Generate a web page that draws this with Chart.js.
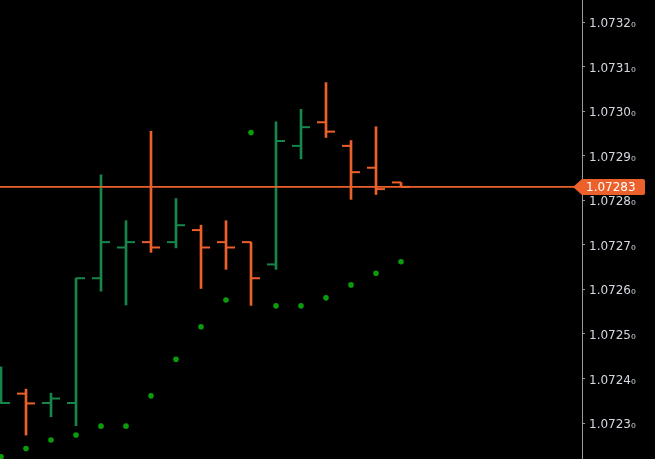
<!DOCTYPE html>
<html>
<head>
<meta charset="utf-8">
<script src="https://cdn.jsdelivr.net/npm/chart.js@4.4.1/dist/chart.umd.min.js"></script>
<style>
  html, body { margin: 0; padding: 0; background: #000; overflow: hidden; }
</style>
</head>
<body>
<canvas id="myChart" width="655" height="459"></canvas>
<script>
// bar index (one bar every 25px), OHLC
const bars   = [0, 1, 2, 3, 4, 5, 6, 7, 8, 9, 10, 11, 12, 13, 14, 15, 16];
const opens  = [1.072345, 1.072366, 1.072345, 1.072345, 1.072625, 1.072694, 1.072706, 1.072706, 1.072733, 1.072706, 1.072706, 1.072656, 1.072922, 1.072975, 1.072922, 1.072873, 1.072840];
const highs  = [1.072426, 1.072376, 1.072367, 1.072625, 1.072857, 1.072754, 1.072955, 1.072804, 1.072744, 1.072754, 1.072706, 1.072976, 1.073004, 1.073064, 1.072934, 1.072965, 1.072840];
const lows   = [1.072345, 1.072273, 1.072314, 1.072294, 1.072596, 1.072565, 1.072683, 1.072693, 1.072602, 1.072645, 1.072564, 1.072645, 1.072893, 1.072941, 1.072802, 1.072813, 1.072830];
const closes = [1.072345, 1.072344, 1.072355, 1.072625, 1.072706, 1.072706, 1.072694, 1.072744, 1.072694, 1.072694, 1.072625, 1.072933, 1.072964, 1.072954, 1.072863, 1.072825, 1.072830];
// parabolic SAR dots
const sar    = [1.072224, 1.072243, 1.072262, 1.072273, 1.072293, 1.072293, 1.072361, 1.072443, 1.072516, 1.072576, 1.072952, 1.072563, 1.072563, 1.072581, 1.072610, 1.072636, 1.072662];
const lastPrice = 1.07283;
const tickValues = [1.0723, 1.0724, 1.0725, 1.0726, 1.0727, 1.0728, 1.0729, 1.0730, 1.0731, 1.0732];

const green = '#16864a';
const orange = '#ec602c';
const dotGreen = '#0b9c0b';
const axisGrey = '#9a9a9a';

const xMin = -0.04, xMax = 23.24;
const tickOff = 0.18;

const barColors = bars.map(i => closes[i] >= opens[i] ? green : orange);

const priceTag = {
  id: 'priceTag',
  afterDraw(chart) {
    const ctx = chart.ctx;
    const y = chart.scales.y.getPixelForValue(lastPrice);
    const x0 = chart.chartArea.right - 9;
    ctx.save();
    ctx.fillStyle = orange;
    ctx.beginPath();
    ctx.moveTo(x0, y);
    ctx.lineTo(x0 + 9, y - 8);
    ctx.lineTo(x0 + 70, y - 8);
    ctx.quadraticCurveTo(x0 + 72, y - 8, x0 + 72, y - 6);
    ctx.lineTo(x0 + 72, y + 6);
    ctx.quadraticCurveTo(x0 + 72, y + 8, x0 + 70, y + 8);
    ctx.lineTo(x0 + 9, y + 8);
    ctx.closePath();
    ctx.fill();
    ctx.fillStyle = '#ffffff';
    ctx.font = '12px "DejaVu Sans"';
    ctx.textBaseline = 'middle';
    ctx.textAlign = 'left';
    ctx.fillText(lastPrice.toFixed(5), x0 + 13, y + 1);
    ctx.restore();
  }
};

var ctx = document.getElementById('myChart').getContext('2d');
var myChart = new Chart(ctx, {
  type: 'line',
  data: {
    datasets: [{
      // price line
      type: 'line',
      data: [{x: xMin, y: lastPrice}, {x: xMax, y: lastPrice}],
      borderColor: orange,
      borderWidth: 1.6,
      pointRadius: 0,
      order: 0
    }, {
      // high-low wicks
      type: 'bar',
      data: bars.map(i => ({x: i, y: [lows[i], highs[i]]})),
      backgroundColor: barColors,
      barThickness: 2,
      borderWidth: 0,
      grouped: false,
      order: 3
    }, {
      // open ticks
      type: 'line',
      showLine: false,
      data: bars.map(i => ({x: i - tickOff, y: opens[i]})),
      pointStyle: 'line',
      pointRadius: 4.5,
      pointBorderWidth: 2,
      pointBorderColor: barColors,
      order: 2
    }, {
      // close ticks
      type: 'line',
      showLine: false,
      data: bars.map(i => ({x: i + tickOff, y: closes[i]})),
      pointStyle: 'line',
      pointRadius: 4.5,
      pointBorderWidth: 2,
      pointBorderColor: barColors,
      order: 2
    }, {
      // SAR
      type: 'line',
      showLine: false,
      data: bars.map(i => ({x: i, y: sar[i]})),
      pointStyle: 'circle',
      pointRadius: 2.8,
      pointBorderWidth: 0,
      pointBackgroundColor: dotGreen,
      order: 1
    }]
  },
  options: {
    responsive: false,
    animation: false,
    layout: { padding: 0, autoPadding: false },
    plugins: { legend: { display: false }, tooltip: { enabled: false } },
    scales: {
      x: {
        type: 'linear',
        min: xMin,
        max: xMax,
        offset: false,
        display: false
      },
      y: {
        type: 'linear',
        position: 'right',
        min: 1.0722193,
        max: 1.0732494,
        afterFit: (scale) => {
          scale.width = 73;
          scale.paddingTop = 0;
          scale.paddingBottom = 0;
        },
        afterBuildTicks: (scale) => { scale.ticks = tickValues.map(v => ({value: v})); },
        grid: {
          drawOnChartArea: false,
          drawTicks: true,
          tickLength: 3,
          color: axisGrey
        },
        border: { display: true, color: axisGrey, width: 1 },
        ticks: {
          padding: 4,
          labelOffset: 2,
          color: '#d4d8e0',
          font: { family: 'DejaVu Sans', size: 12 },
          callback: (v) => v.toFixed(4) + '\u2080'
        }
      }
    }
  },
  plugins: [priceTag]
});
</script>
</body>
</html>
